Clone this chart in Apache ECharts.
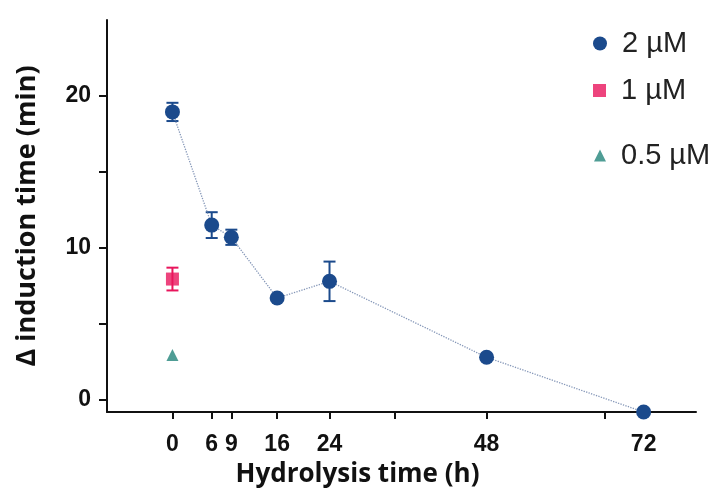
<!DOCTYPE html>
<html>
<head>
<meta charset="utf-8">
<script src="https://cdn.jsdelivr.net/npm/echarts@6/dist/echarts.min.js"></script>
<style>
html,body{margin:0;padding:0;background:#fff;}
#main{width:724px;height:488px;}
</style>
</head>
<body>
<div id="main"></div>
<script>
// data
var hours2 = [0, 6, 9, 16, 24, 48, 72];
var mean2 = [18.95, 11.5, 10.7, 6.7, 7.8, 2.8, -0.8];
var err2 = [0.6, 0.85, 0.5, 0, 1.3, 0, 0];
var hours1 = [0];
var mean1 = [7.95];
var err1 = [0.75];
var hours05 = [0];
var mean05 = [2.95];
var xTicks = [0, 6, 9, 16, 24, 34, 48, 66, 72];
var xLabels = [0, 6, 9, 16, 24, 48, 72];
var yTicks = [0, 5, 10, 15, 20];
var yLabels = [0, 10, 20];

var blue = '#1b4a8c', pink = '#e8155c', teal = '#23857b';

function pts(xs, ys) {
	var out = [];
	for (var i = 0; i < xs.length; i++) out.push([xs[i], ys[i]]);
	return out;
}
function bars(xs, ys, es) {
	var out = [];
	for (var i = 0; i < xs.length; i++) {
		if (es[i] > 0) out.push([xs[i], ys[i] - es[i], ys[i] + es[i]]);
	}
	return out;
}
// error bar with caps
function errRender(color) {
	return function(params, api) {
		var lo = api.coord([api.value(0), api.value(1)]);
		var hi = api.coord([api.value(0), api.value(2)]);
		var w = 6;
		var st = {stroke: color, lineWidth: 2};
		return {
			type: 'group',
			children: [
				{type: 'line', shape: {x1: lo[0], y1: lo[1], x2: hi[0], y2: hi[1]}, style: st},
				{type: 'line', shape: {x1: lo[0] - w, y1: lo[1], x2: lo[0] + w, y2: lo[1]}, style: st},
				{type: 'line', shape: {x1: hi[0] - w, y1: hi[1], x2: hi[0] + w, y2: hi[1]}, style: st}
			]
		};
	};
}

var chart = echarts.init(document.getElementById('main'));
var legendText = {fontFamily: 'Liberation Sans', fontSize: 29, color: '#222', padding: [0, 0, 0, 10]};
chart.setOption({
	animation: false,
	grid: {left: 107, right: 28, top: 20, bottom: 76, outerBoundsMode: 'none'},
	legend: [
		{data: [{name: '2 µM', icon: 'circle'}], left: 588, top: 24, itemWidth: 14, itemHeight: 14, textStyle: legendText},
		{data: [{name: '1 µM', icon: 'rect'}], left: 588, top: 71, itemWidth: 13, itemHeight: 13, textStyle: legendText},
		{data: [{name: '0.5 µM', icon: 'triangle'}], left: 589, top: 136, itemWidth: 12, itemHeight: 12, textStyle: legendText}
	],
	xAxis: {
		type: 'value', min: -10, max: 80,
		name: 'Hydrolysis time (h)', nameLocation: 'middle', nameGap: 50,
		nameTextStyle: {fontFamily: 'Open Sans', fontWeight: 'bold', fontSize: 26, color: '#111', padding: [0, 88, 0, 0]},
		axisLine: {onZero: false, lineStyle: {color: '#111', width: 2}},
		axisTick: {customValues: xTicks, length: 7, lineStyle: {color: '#111', width: 2}},
		axisLabel: {customValues: xLabels, margin: 21, fontFamily: 'Liberation Sans', fontWeight: 'bold', fontSize: 23, color: '#111'},
		splitLine: {show: false}
	},
	yAxis: {
		type: 'value', min: -0.8, max: 25,
		name: 'Δ induction time (min)', nameLocation: 'middle', nameGap: 66,
		nameTextStyle: {fontFamily: 'Open Sans', fontWeight: 'bold', fontSize: 27, color: '#111'},
		axisLine: {onZero: false, lineStyle: {color: '#111', width: 2}},
		axisTick: {customValues: yTicks, length: 8, lineStyle: {color: '#111', width: 2}},
		axisLabel: {customValues: yLabels, margin: 16, fontFamily: 'Liberation Sans', fontWeight: 'bold', fontSize: 23, color: '#111'},
		splitLine: {show: false}
	},
	series: [
		{type: 'custom', renderItem: errRender(blue), data: bars(hours2, mean2, err2), z: 3, silent: true},
		{type: 'custom', renderItem: errRender(pink), data: bars(hours1, mean1, err1), z: 3, silent: true},
		{
			name: '2 µM', type: 'line', data: pts(hours2, mean2), symbol: 'circle', symbolSize: 15,
			itemStyle: {color: blue}, lineStyle: {color: '#8597b8', width: 1.3, type: 'dotted'}, z: 4
		},
		{
			name: '1 µM', type: 'scatter', data: pts(hours1, mean1), symbol: 'rect', symbolSize: 13,
			itemStyle: {color: pink}, z: 4
		},
		{
			name: '0.5 µM', type: 'scatter', data: pts(hours05, mean05), symbol: 'triangle', symbolSize: 12,
			itemStyle: {color: teal}, z: 4
		}
	]
});
</script>
</body>
</html>
